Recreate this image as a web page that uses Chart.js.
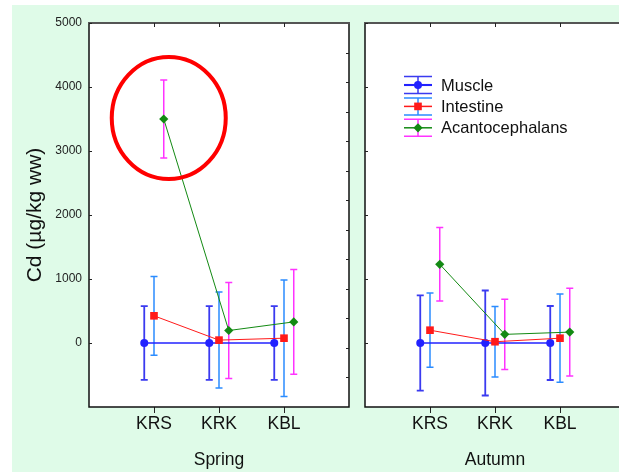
<!DOCTYPE html>
<html>
<head>
<meta charset="utf-8">
<script src="https://cdn.jsdelivr.net/npm/chart.js@4.4.1/dist/chart.umd.min.js"></script>
<style>
  html, body { margin: 0; padding: 0; background: #fff; overflow: hidden; }
  #bg { position: absolute; left: 12px; top: 5px; width: 607px; height: 467px; background: #dffbe8; }
  .panel { position: absolute; top: 5px; height: 467px; overflow: hidden; }
  .panel canvas { position: absolute; left: 0; top: 0; }
  #springBox { left: 12px; width: 345px; }
  #autumnBox { left: 357px; width: 262px; }
  #spring { width: 345px; height: 467px; }
  #autumn { width: 268px; height: 467px; }
</style>
</head>
<body>
<div id="bg"></div>
<div class="panel" id="springBox"><canvas id="spring" width="345" height="467"></canvas></div>
<div class="panel" id="autumnBox"><canvas id="autumn" width="268" height="467"></canvas></div>
<script>
const categories = ['KRS', 'KRK', 'KBL'];
const yTicks = [0, 1000, 2000, 3000, 4000, 5000];
const seriesNames = ['Muscle', 'Intestine', 'Acantocephalans'];

// Cd means with +/- error, spring campaign
const springMuscle = [0, 0, 0];
const springMuscleErr = [575, 575, 575];
const springIntestine = [425, 45, 75];
const springIntestineErr = [615, 750, 910];
const springAcanto = [3500, 195, 330];
const springAcantoErr = [610, 750, 820];

// autumn campaign
const autumnMuscle = [0, 0, 0];
const autumnMuscleErr = [745, 820, 578];
const autumnIntestine = [200, 20, 75];
const autumnIntestineErr = [580, 550, 690];
const autumnAcanto = [1230, 135, 170];
const autumnAcantoErr = [575, 550, 685];

const FONT = 'Arial, "Liberation Sans", sans-serif';

const styles = [
  { line: '#2222ff', bar: '#3a3af0', shape: 'circle', radius: 4, offset: -0.15, order: 2, lineWidth: 1.6, barWidth: 1.8 },
  { line: '#ff1a1a', bar: '#2b8cff', shape: 'rect', radius: 5.4, offset: 0, order: 1, lineWidth: 1, barWidth: 1.5 },
  { line: '#138a13', bar: '#ff33ff', shape: 'rectRot', radius: 4.6, offset: 0.15, order: 0, lineWidth: 1, barWidth: 1.5 }
];

function makeDatasets(values, errors) {
  return values.map((vals, s) => {
    const st = styles[s];
    return {
      label: seriesNames[s],
      data: vals.map((v, i) => ({ x: i + 1 + st.offset, y: v })),
      errors: errors[s],
      borderColor: st.line,
      backgroundColor: st.line,
      borderWidth: st.lineWidth,
      pointStyle: st.shape,
      pointRadius: st.radius,
      pointBorderWidth: 0,
      pointBackgroundColor: st.line,
      tension: 0,
      order: st.order
    };
  });
}

function drawMarker(ctx, shape, r, x, y, color) {
  ctx.fillStyle = color;
  ctx.beginPath();
  if (shape === 'circle') {
    ctx.arc(x, y, r, 0, Math.PI * 2);
  } else if (shape === 'rect') {
    const h = r * Math.SQRT1_2;
    ctx.rect(x - h, y - h, 2 * h, 2 * h);
  } else {
    ctx.moveTo(x - r, y); ctx.lineTo(x, y - r); ctx.lineTo(x + r, y); ctx.lineTo(x, y + r);
    ctx.closePath();
  }
  ctx.fill();
}

// vertical error bars with caps, under the markers
const errorBars = {
  id: 'errorBars',
  beforeDatasetsDraw(chart) {
    const { ctx } = chart;
    const x = chart.scales.x, y = chart.scales.y;
    ctx.save();
    chart.data.datasets.forEach((ds, s) => {
      const st = styles[s];
      ctx.strokeStyle = st.bar;
      ctx.lineWidth = st.barWidth;
      ds.data.forEach((p, i) => {
        const px = x.getPixelForValue(p.x);
        const top = y.getPixelForValue(p.y + ds.errors[i]);
        const bot = y.getPixelForValue(p.y - ds.errors[i]);
        ctx.beginPath();
        ctx.moveTo(px, top); ctx.lineTo(px, bot);
        ctx.moveTo(px - 3.5, top); ctx.lineTo(px + 3.5, top);
        ctx.moveTo(px - 3.5, bot); ctx.lineTo(px + 3.5, bot);
        ctx.stroke();
      });
    });
    ctx.restore();
  }
};

// white plot background, box frame and inward ticks
const frame = {
  id: 'frame',
  beforeDraw(chart) {
    const { ctx, chartArea: a } = chart;
    ctx.save();
    ctx.fillStyle = '#ffffff';
    ctx.fillRect(a.left, a.top, a.right - a.left, a.bottom - a.top);
    ctx.restore();
  },
  afterDraw(chart, args, opts) {
    const { ctx, chartArea: a } = chart;
    const x = chart.scales.x, y = chart.scales.y;
    ctx.save();
    ctx.strokeStyle = '#111';
    ctx.lineWidth = 1.5;
    ctx.beginPath();
    ctx.moveTo(a.left, a.top); ctx.lineTo(a.left, a.bottom); ctx.lineTo(a.right, a.bottom); ctx.lineTo(a.right, a.top);
    ctx.stroke();
    ctx.strokeStyle = '#555';
    ctx.lineWidth = 2;
    ctx.beginPath();
    ctx.moveTo(a.left - 1, a.top); ctx.lineTo(a.right + 1, a.top);
    ctx.stroke();

    ctx.strokeStyle = '#222';
    ctx.lineWidth = 1;
    ctx.beginPath();
    categories.forEach((c, i) => {
      const px = Math.round(x.getPixelForValue(i + 1)) + 0.5;
      ctx.moveTo(px, a.top); ctx.lineTo(px, a.top + 4);
    });
    yTicks.forEach(v => {
      const py = Math.round(y.getPixelForValue(v)) + 0.5;
      ctx.moveTo(a.left, py); ctx.lineTo(a.left + 3, py);
    });
    if (opts.rightTicks) {
      const n = opts.rightTicks;
      for (let k = 1; k < n; k++) {
        const py = Math.round(a.top + (a.bottom - a.top) * k / n) + 0.5;
        ctx.moveTo(a.right, py); ctx.lineTo(a.right - 3, py);
      }
    }
    ctx.stroke();
    ctx.restore();
  }
};

// red ring around the highlighted point
const ring = {
  id: 'ring',
  afterDatasetsDraw(chart, args, opts) {
    if (!opts.show) return;
    const pt = chart.getDatasetMeta(opts.dataset).data[opts.index];
    const { ctx } = chart;
    ctx.save();
    ctx.strokeStyle = '#ff0000';
    ctx.lineWidth = 4;
    ctx.beginPath();
    ctx.ellipse(pt.x + 5, pt.y - 1, 57, 61, 0, 0, Math.PI * 2);
    ctx.stroke();
    ctx.restore();
  }
};

// legend with error-bar symbols
const barLegend = {
  id: 'barLegend',
  afterDraw(chart, args, opts) {
    if (!opts.show) return;
    const { ctx, chartArea: a } = chart;
    const cx = a.left + 53, half = 14;
    ctx.save();
    chart.data.datasets.forEach((ds, s) => {
      const st = styles[s];
      const cy = a.top + 62 + s * 21.4;
      ctx.strokeStyle = st.bar;
      ctx.lineWidth = 1.5;
      ctx.beginPath();
      ctx.moveTo(cx - half, cy - 8.5); ctx.lineTo(cx + half, cy - 8.5);
      ctx.moveTo(cx - half, cy + 8.5); ctx.lineTo(cx + half, cy + 8.5);
      ctx.moveTo(cx, cy - 8.5); ctx.lineTo(cx, cy + 8.5);
      ctx.stroke();
      ctx.strokeStyle = st.line;
      ctx.lineWidth = st.lineWidth + 0.5;
      ctx.beginPath();
      ctx.moveTo(cx - half, cy); ctx.lineTo(cx + half, cy);
      ctx.stroke();
      drawMarker(ctx, st.shape, st.radius, cx, cy, st.line);
      ctx.fillStyle = '#111';
      ctx.font = '16.5px ' + FONT;
      ctx.textAlign = 'left';
      ctx.textBaseline = 'middle';
      ctx.fillText(ds.label, a.left + 76, cy + 1);
    });
    ctx.restore();
  }
};

function makeOptions(title, showY, pluginOpts) {
  return {
    responsive: false,
    animation: false,
    devicePixelRatio: 1,
    layout: { autoPadding: false, padding: { top: 18, left: showY ? 0 : 8, right: showY ? 8 : 0, bottom: 0 } },
    plugins: Object.assign({ legend: { display: false }, tooltip: { enabled: false } }, pluginOpts),
    scales: {
      x: {
        type: 'linear', min: 0, max: 4,
        afterBuildTicks: s => { s.ticks = categories.map((c, i) => ({ value: i + 1 })); },
        afterFit: s => { s.height = 65; s.paddingLeft = 0; s.paddingRight = 0; },
        ticks: { callback: v => categories[v - 1], font: { family: FONT, size: 17.5 }, color: '#111', padding: 1, maxRotation: 0, autoSkip: false },
        grid: { drawOnChartArea: false, drawTicks: true, tickLength: 6, color: '#222', lineWidth: 1 },
        border: { display: false },
        title: { display: true, text: title, font: { family: FONT, size: 17.5 }, color: '#111', padding: { top: 0, bottom: 1.5 } }
      },
      y: {
        min: -1000, max: 5000,
        display: showY,
        afterBuildTicks: s => { s.ticks = yTicks.map(v => ({ value: v })); },
        afterFit: s => { s.width = showY ? 77 : 0; },
        ticks: { callback: v => String(v), font: { family: FONT, size: 12 }, color: '#222', padding: 7 },
        grid: { display: false, drawTicks: false },
        border: { display: false },
        title: { display: true, text: 'Cd (µg/kg ww)', font: { family: FONT, size: 21 }, color: '#111', padding: { top: 10.4, bottom: 0 } }
      }
    }
  };
}

new Chart(document.getElementById('spring'), {
  type: 'line',
  data: { datasets: makeDatasets(
    [springMuscle, springIntestine, springAcanto],
    [springMuscleErr, springIntestineErr, springAcantoErr]) },
  options: makeOptions('Spring', true, {
    frame: { rightTicks: 13 },
    ring: { show: true, dataset: 2, index: 0 },
    barLegend: { show: false }
  }),
  plugins: [frame, errorBars, ring, barLegend]
});

new Chart(document.getElementById('autumn'), {
  type: 'line',
  data: { datasets: makeDatasets(
    [autumnMuscle, autumnIntestine, autumnAcanto],
    [autumnMuscleErr, autumnIntestineErr, autumnAcantoErr]) },
  options: makeOptions('Autumn', false, {
    frame: { rightTicks: 0 },
    ring: { show: false },
    barLegend: { show: true }
  }),
  plugins: [frame, errorBars, ring, barLegend]
});
</script>
</body>
</html>
